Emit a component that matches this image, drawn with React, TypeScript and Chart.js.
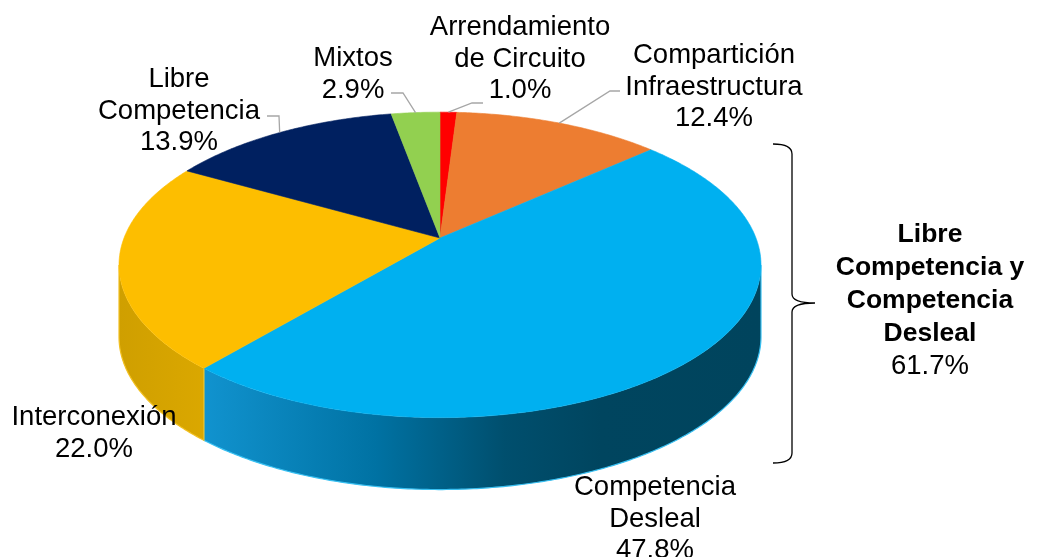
import React, { useEffect, useRef } from "react";
import { Chart, registerables } from "chart.js";

Chart.register(...registerables);

// ---------- data ----------
const categories = [
  "Arrendamiento de Circuito",
  "Compartición Infraestructura",
  "Competencia Desleal",
  "Interconexión",
  "Libre Competencia",
  "Mixtos",
];
const shares = [1.0, 12.4, 47.8, 22.0, 13.9, 2.9];
const labelLines = [
  ["Arrendamiento", "de Circuito"],
  ["Compartición", "Infraestructura"],
  ["Competencia", "Desleal"],
  ["Interconexión"],
  ["Libre", "Competencia"],
  ["Mixtos"],
];
const groupMembers = [4, 2]; // Libre Competencia + Competencia Desleal
const groupLines = ["Libre", "Competencia y", "Competencia", "Desleal"];

// ---------- styles / layout ----------
const topColors = ["#FF0000", "#ED7D31", "#00B0F0", "#FDBE00", "#002060", "#92D050"];
const wallStops: [number, string][][] = [
  [[0, "#c00000"], [1, "#c00000"]],
  [[0, "#b85f22"], [1, "#b85f22"]],
  [[0, "#1193cf"], [0.13, "#1193cf"], [0.4, "#0072a3"], [0.6, "#004f6e"], [0.75, "#00455f"], [1, "#00445d"]],
  [[0, "#cf9f00"], [0.14, "#dba800"], [1, "#dba800"]],
  [[0, "#001440"], [1, "#001440"]],
  [[0, "#6e9c3c"], [1, "#6e9c3c"]],
];
const wallEdge = ["#ff4040", "#f09050", "#38c0f2", "#f2c020", "#203a80", "#a8dc70"];
const labelPos = [
  { x: 520, y: 35 },
  { x: 714, y: 63 },
  { x: 655, y: 495 },
  { x: 94, y: 425 },
  { x: 179, y: 87 },
  { x: 353, y: 66 },
];
const leaders: ({ from: [number, number]; elbow: [number, number] } | null)[] = [
  { from: [483, 103], elbow: [472, 103] },
  { from: [620, 91], elbow: [610, 91] },
  null,
  null,
  { from: [267, 116], elbow: [279, 116] },
  { from: [391, 93], elbow: [403, 93] },
];
const X_RATIO = 2.135; // horizontal radius / outerRadius
const Y_RATIO = 1.0; // vertical radius / outerRadius
const PERSP = 0.176; // perspective factor
const DEPTH_RATIO = 0.486; // depth / outerRadius
const FONT = '"Liberation Sans", Arial, sans-serif';
const LINE_H = 31.5;

function proj(el: any, t: number, z: number): [number, number] {
  const r = el.outerRadius;
  const a = r * X_RATIO;
  const b = r * Y_RATIO;
  const s = Math.sin(t);
  const c = Math.cos(t);
  const d = 1 - PERSP * s;
  return [el.x + (a * c) / d, el.y + (b * s) / d + z];
}

const pie3d = {
  id: "pie3d",
  beforeDatasetsDraw(chart: any) {
    const ctx: CanvasRenderingContext2D = chart.ctx;
    const arcs = chart.getDatasetMeta(0).data;
    if (!arcs.length) return false;
    const el0 = arcs[0];
    const depth = el0.outerRadius * DEPTH_RATIO;
    const halfW = el0.outerRadius * X_RATIO / Math.sqrt(1 - PERSP * PERSP);
    const t0 = Math.asin(PERSP);
    const t1 = Math.PI - t0;
    const STEP = 0.01;

    // side walls
    arcs.forEach((el: any, i: number) => {
      const s = Math.max(el.startAngle, t0);
      const e = Math.min(el.endAngle, t1);
      if (e <= s) return;
      const pts: [number, number][] = [];
      for (let t = s; t < e; t += STEP) pts.push(proj(el, t, 0));
      pts.push(proj(el, e, 0));
      const bot: [number, number][] = [];
      for (let t = e; t > s; t -= STEP) bot.push(proj(el, t, depth));
      bot.push(proj(el, s, depth));
      const g = ctx.createLinearGradient(el.x - halfW, 0, el.x + halfW, 0);
      wallStops[i].forEach(([o, c]) => g.addColorStop(o, c));
      ctx.beginPath();
      pts.forEach(([x, y], k) => (k ? ctx.lineTo(x, y) : ctx.moveTo(x, y)));
      bot.forEach(([x, y]) => ctx.lineTo(x, y));
      ctx.closePath();
      ctx.fillStyle = g;
      ctx.fill();
      // lit edge along bottom and ends
      ctx.beginPath();
      const pe = pts[pts.length - 1];
      ctx.moveTo(pe[0], pe[1]);
      bot.forEach(([x, y]) => ctx.lineTo(x, y));
      ctx.lineTo(pts[0][0], pts[0][1]);
      ctx.strokeStyle = wallEdge[i];
      ctx.lineWidth = 1.2;
      ctx.stroke();
    });

    // top faces
    arcs.forEach((el: any, i: number) => {
      ctx.beginPath();
      ctx.moveTo(el.x, el.y);
      for (let t = el.startAngle; t < el.endAngle; t += STEP) {
        const [x, y] = proj(el, t, 0);
        ctx.lineTo(x, y);
      }
      const [xe, ye] = proj(el, el.endAngle, 0);
      ctx.lineTo(xe, ye);
      ctx.closePath();
      ctx.fillStyle = topColors[i];
      ctx.fill();
      ctx.strokeStyle = topColors[i];
      ctx.lineWidth = 0.6;
      ctx.stroke();
    });
    return false;
  },
  afterDraw(chart: any) {
    const ctx: CanvasRenderingContext2D = chart.ctx;
    const arcs = chart.getDatasetMeta(0).data;
    const vals: number[] = chart.data.datasets[0].data;
    ctx.save();
    // leader lines
    ctx.strokeStyle = "#a6a6a6";
    ctx.lineWidth = 1.3;
    leaders.forEach((ld, i) => {
      if (!ld) return;
      const el = arcs[i];
      const mid = (el.startAngle + el.endAngle) / 2;
      const [rx, ry] = proj(el, mid, 0);
      ctx.beginPath();
      ctx.moveTo(ld.from[0], ld.from[1]);
      ctx.lineTo(ld.elbow[0], ld.elbow[1]);
      ctx.lineTo(rx, ry);
      ctx.stroke();
    });
    // labels
    ctx.fillStyle = "#000000";
    ctx.textAlign = "center";
    ctx.textBaseline = "alphabetic";
    ctx.font = `27.5px ${FONT}`;
    labelLines.forEach((lines, i) => {
      const p = labelPos[i];
      const all = [...lines, `${vals[i].toFixed(1)}%`];
      all.forEach((txt, k) => ctx.fillText(txt, p.x, p.y + k * LINE_H));
    });
    // bracket
    ctx.strokeStyle = "#000000";
    ctx.lineWidth = 1.3;
    ctx.beginPath();
    ctx.moveTo(773, 144);
    ctx.quadraticCurveTo(792, 144, 792, 154);
    ctx.lineTo(792, 294);
    ctx.quadraticCurveTo(792, 303, 815, 303);
    ctx.quadraticCurveTo(792, 303, 792, 312);
    ctx.lineTo(792, 453);
    ctx.quadraticCurveTo(792, 463, 773, 463);
    ctx.stroke();
    // group label
    const gx = 930;
    ctx.font = `bold 26.5px ${FONT}`;
    groupLines.forEach((txt, k) => ctx.fillText(txt, gx, 242 + k * 33));
    const gsum = groupMembers.reduce((s, i) => s + vals[i], 0);
    ctx.font = `27.5px ${FONT}`;
    ctx.fillText(`${gsum.toFixed(1)}%`, gx, 242 + groupLines.length * 33);
    ctx.restore();
  },
};

export default function App() {
  const ref = useRef<HTMLCanvasElement | null>(null);
  useEffect(() => {
    document.body.style.margin = "0";
    if (!ref.current) return;
    const chart = new Chart(ref.current, {
      type: "pie",
      data: {
        labels: categories,
        datasets: [
          {
            data: shares,
            backgroundColor: topColors,
            borderWidth: 0,
          },
        ],
      },
      options: {
        responsive: false,
        animation: false,
        devicePixelRatio: 1,
        events: [],
        layout: { padding: { left: 0, right: 165, top: 90, bottom: 171 } },
        plugins: {
          legend: { display: false },
          tooltip: { enabled: false },
        },
      },
      plugins: [pie3d],
    });
    return () => chart.destroy();
  }, []);
  return (
    <div style={{ width: 1045, height: 557, background: "#ffffff" }}>
      <canvas ref={ref} width={1045} height={557} style={{ display: "block" }} />
    </div>
  );
}
